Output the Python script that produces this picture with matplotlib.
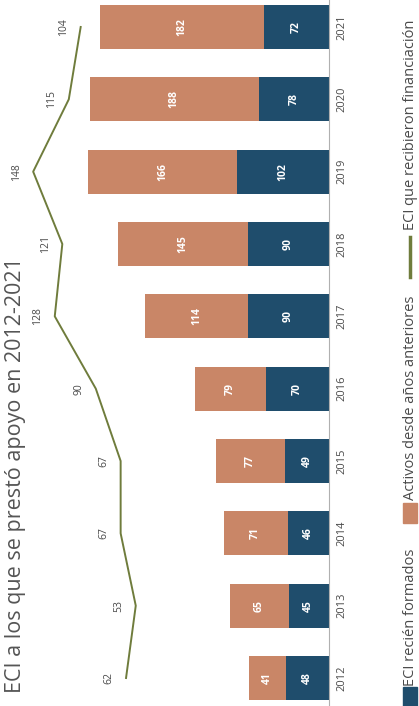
import matplotlib
matplotlib.use("Agg")
import matplotlib.pyplot as plt
from matplotlib.patches import Rectangle
from matplotlib.lines import Line2D

plt.rcParams['font.family'] = ['Open Sans', 'DejaVu Sans']

years = ["2012", "2013", "2014", "2015", "2016", "2017", "2018", "2019", "2020", "2021"]
nuevos = [48, 45, 46, 49, 70, 90, 90, 102, 78, 72]
anteriores = [41, 65, 71, 77, 79, 114, 145, 166, 188, 182]
financiados = [62, 53, 67, 67, 90, 128, 121, 148, 115, 104]

C_BLUE = "#1f4d6c"
C_ORANGE = "#c98667"
C_GREEN = "#6f7c3c"
C_TEXT = "#4a4a4a"

W, H = 419, 706
fig = plt.figure(figsize=(W / 100, H / 100), dpi=100)

def fx(px):
    return px / W

def fy(py):
    return 1 - py / H

base_px = 329
ax = fig.add_axes([0, 0, fx(base_px), 1])
idx = list(range(len(years)))

# horizontal stacked bars, growing leftwards from the base line
ax.barh(idx, nuevos, height=0.61, color=C_BLUE, zorder=2)
ax.barh(idx, anteriores, left=nuevos, height=0.61, color=C_ORANGE, zorder=2)
ax.set_xlim(base_px / 0.9, 0)
ax.set_ylim(-0.387, 9.373)

for i, (n, a) in enumerate(zip(nuevos, anteriores)):
    ax.text(n / 2, i, str(n), rotation=90, ha='center', va='center',
            color='white', fontsize=7.5, fontweight='bold', zorder=3)
    ax.text(n + a / 2, i, str(a), rotation=90, ha='center', va='center',
            color='white', fontsize=7.5, fontweight='bold', zorder=3)

for side in ['top', 'left', 'bottom']:
    ax.spines[side].set_visible(False)
ax.spines['right'].set_color('#b0b0b0')
ax.spines['right'].set_linewidth(0.8)
ax.set_xticks([])
ax.yaxis.tick_right()
ax.set_yticks(idx)
ax.set_yticklabels(years, rotation=90, fontsize=8, color=C_TEXT)
ax.tick_params(axis='y', length=0, pad=5)
for lbl in ax.get_yticklabels():
    lbl.set_verticalalignment('center')
    lbl.set_horizontalalignment('left')

# line series on its own value scale
ax2 = ax.twiny()
ax2.set_xlim(193 / 1.08, (193 - base_px) / 1.08)
ax2.set_ylim(ax.get_ylim())
ax2.plot(financiados, idx, color=C_GREEN, lw=1.4, clip_on=False, zorder=4)
for i, v in enumerate(financiados):
    ax2.annotate(str(v), (v, i), xytext=(-17, 0), textcoords='offset pixels',
                 rotation=90, ha='center', va='center', fontsize=7.5, color=C_TEXT,
                 annotation_clip=False)
ax2.axis('off')

# title
fig.text(fx(16), fy(693), "ECI a los que se prestó apoyo en 2012-2021",
         rotation=90, ha='center', va='bottom', fontsize=15.5, color='#555555')

# legend
lx = 410
fig.add_artist(Rectangle((fx(403), fy(706)), fx(14), 19 / H, color=C_BLUE,
                         transform=fig.transFigure))
fig.text(fx(lx), fy(686), "ECI recién formados", rotation=90, ha='center',
         va='bottom', fontsize=10.5, color=C_TEXT)
fig.add_artist(Rectangle((fx(403), fy(523)), fx(14), 20 / H, color=C_ORANGE,
                         transform=fig.transFigure))
fig.text(fx(lx), fy(500), "Activos desde años anteriores", rotation=90, ha='center',
         va='bottom', fontsize=10.5, color=C_TEXT)
fig.add_artist(Line2D([fx(lx), fx(lx)], [fy(277), fy(237)], color=C_GREEN, lw=2.5,
                      transform=fig.transFigure))
fig.text(fx(lx), fy(230), "ECI que recibieron financiación", rotation=90, ha='center',
         va='bottom', fontsize=10.5, color=C_TEXT)

fig.savefig("out.png", dpi=100)
